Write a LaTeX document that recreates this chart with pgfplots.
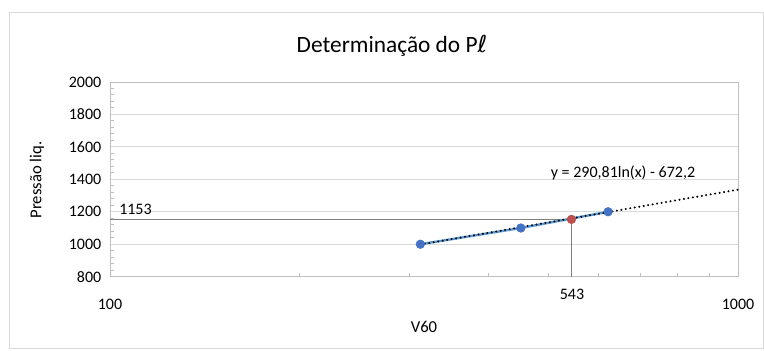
\documentclass[border=0pt]{standalone}
\usepackage{fontspec}
\setmainfont{Carlito}
\newfontfamily\dejavu{DejaVu Sans}
\usepackage{pgfplots}
\pgfplotsset{compat=1.18}
\definecolor{gridc}{HTML}{D9D9D9}
\definecolor{axg}{HTML}{BFBFBF}
\definecolor{ptblue}{HTML}{4472C4}
\definecolor{lnblue}{HTML}{5B9BD5}
\definecolor{ptred}{HTML}{C0504D}
\definecolor{refg}{HTML}{808080}
\begin{document}
\begin{tikzpicture}
\useasboundingbox (-82.5pt,-55pt) rectangle (490.5pt,207.5pt);
\draw[gridc, line width=0.75pt] (-75pt,-54.2pt) rectangle (489.75pt,197.8pt);
\begin{axis}[
  at={(0pt,0pt)}, anchor=south west, scale only axis,
  width=471pt, height=146pt,
  xmode=log, xmin=100, xmax=1000, ymin=800, ymax=2000,
  xtick={100,1000}, xticklabels={100,1000},
  minor xtick={200,300,400,500,600,700,800,900},
  ytick={800,1000,...,2000}, minor y tick num=4,
  ymajorgrids, grid style={gridc, line width=0.75pt},
  xtick pos=lower, ytick pos=left,
  tick align=inside,
  major tick length=0pt, minor tick length=3pt,
  tick style={axg, line width=0.75pt},
  axis line style={axg, line width=0.75pt},
  /pgf/number format/assume math mode=true,
  /pgf/number format/1000 sep={},
  yticklabel style={font=\fontsize{12}{14}\selectfont, xshift=-3pt},
  xticklabel style={font=\fontsize{12}{14}\selectfont, yshift=-13pt},
  clip=false,
]
\addplot[refg, line width=0.9pt] coordinates {(100,1153) (543,1153) (543,800)};
\addplot[lnblue, line width=1.8pt, mark=*, mark size=3.2pt, mark options={fill=ptblue, draw=ptblue, line width=0.5pt}] coordinates {(312,1000) (451,1100) (621,1200)};
\addplot[black, line width=1.7pt, line cap=round, dash pattern=on 0pt off 3.4pt] coordinates {(312,997.9) (1000,1336.6)};
\addplot[only marks, mark=*, mark size=3.2pt, ptred, mark options={fill=ptred, draw=ptred, line width=0.5pt}] coordinates {(543,1153)};
\end{axis}
\node[font=\fontsize{17.5}{21}\selectfont] at (211.5pt,173pt) {Determinação do P{\dejavu ℓ}};
\node[font=\fontsize{12.5}{15}\selectfont, rotate=90] at (-54.75pt,72.5pt) {Pressão liq.};
\node[font=\fontsize{12.5}{15}\selectfont] at (235.5pt,-37.8pt) {V60};
\node[font=\fontsize{12}{14}\selectfont, anchor=west, inner sep=0pt] at (6.75pt,50.8pt) {1153};
\node[font=\fontsize{12}{14}\selectfont] at (346.5pt,-13.3pt) {543};
\node[font=\fontsize{12}{14}\selectfont] at (384.75pt,77.8pt) {y = 290,81ln(x) - 672,2};
\end{tikzpicture}
\end{document}
